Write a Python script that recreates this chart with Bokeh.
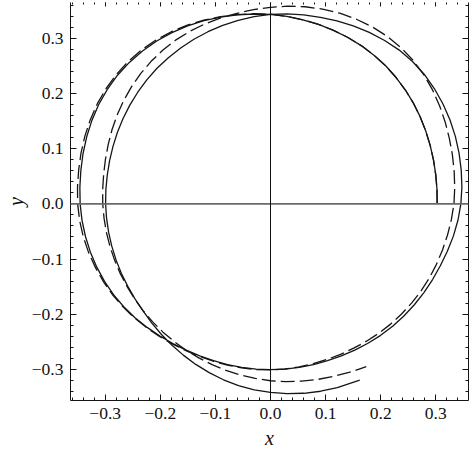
import numpy as np
from bokeh.plotting import figure
from bokeh.models import Span, LinearAxis, FixedTicker
from bokeh.embed import file_html
from bokeh.resources import INLINE

# Polar readings of the two orbits: angle (degrees, unwrapped, every 5 deg) and radius
solid_theta = list(range(0, 655, 5)) + [656.9]
solid_r = [
    0.3025, 0.3033, 0.3045, 0.3063, 0.3085, 0.3111, 0.3140, 0.3170, 0.3200, 0.3229,
    0.3258, 0.3282, 0.3305, 0.3325, 0.3345, 0.3365, 0.3385, 0.3407, 0.3430, 0.3452,
    0.3475, 0.3502, 0.3530, 0.3556, 0.3580, 0.3600, 0.3615, 0.3623, 0.3625, 0.3615,
    0.3600, 0.3577, 0.3550, 0.3522, 0.3495, 0.3473, 0.3455, 0.3434, 0.3410, 0.3384,
    0.3355, 0.3324, 0.3290, 0.3252, 0.3210, 0.3166, 0.3125, 0.3090, 0.3060, 0.3040,
    0.3025, 0.3016, 0.3010, 0.3007, 0.3005, 0.3005, 0.3008, 0.3015, 0.3025, 0.3040,
    0.3060, 0.3084, 0.3110, 0.3135, 0.3160, 0.3187, 0.3215, 0.3246, 0.3280, 0.3323,
    0.3370, 0.3415, 0.3455, 0.3487, 0.3515, 0.3543, 0.3570, 0.3595, 0.3615, 0.3633,
    0.3645, 0.3645, 0.3635, 0.3612, 0.3585, 0.3555, 0.3525, 0.3498, 0.3475, 0.3453,
    0.3430, 0.3403, 0.3375, 0.3347, 0.3318, 0.3289, 0.3260, 0.3232, 0.3205, 0.3175,
    0.3145, 0.3117, 0.3090, 0.3065, 0.3042, 0.3023, 0.3008, 0.2999, 0.2993, 0.2987,
    0.2983, 0.2981, 0.2982, 0.2985, 0.2990, 0.3002, 0.3020, 0.3050, 0.3085, 0.3124,
    0.3165, 0.3210, 0.3255, 0.3300, 0.3345, 0.3382, 0.3415, 0.3450, 0.3485, 0.3515,
    0.3545, 0.3580]

dashed_theta = list(range(0, 660, 5)) + [660.5]
dashed_r = [
    0.3025, 0.3033, 0.3045, 0.3063, 0.3085, 0.3111, 0.3140, 0.3170, 0.3200, 0.3229,
    0.3258, 0.3282, 0.3305, 0.3325, 0.3345, 0.3365, 0.3385, 0.3409, 0.3435, 0.3456,
    0.3480, 0.3509, 0.3540, 0.3571, 0.3600, 0.3623, 0.3640, 0.3648, 0.3650, 0.3642,
    0.3628, 0.3608, 0.3585, 0.3560, 0.3535, 0.3516, 0.3500, 0.3477, 0.3450, 0.3417,
    0.3380, 0.3343, 0.3305, 0.3263, 0.3220, 0.3176, 0.3135, 0.3100, 0.3070, 0.3050,
    0.3035, 0.3025, 0.3018, 0.3014, 0.3010, 0.3004, 0.3000, 0.2999, 0.3000, 0.3008,
    0.3020, 0.3038, 0.3060, 0.3082, 0.3105, 0.3130, 0.3155, 0.3180, 0.3205, 0.3232,
    0.3262, 0.3295, 0.3330, 0.3356, 0.3385, 0.3418, 0.3455, 0.3499, 0.3545, 0.3592,
    0.3635, 0.3667, 0.3690, 0.3700, 0.3700, 0.3690, 0.3675, 0.3652, 0.3625, 0.3594,
    0.3560, 0.3532, 0.3505, 0.3487, 0.3470, 0.3452, 0.3430, 0.3402, 0.3370, 0.3334,
    0.3295, 0.3255, 0.3215, 0.3174, 0.3135, 0.3102, 0.3075, 0.3057, 0.3045, 0.3032,
    0.3022, 0.3014, 0.3008, 0.3005, 0.3005, 0.3008, 0.3015, 0.3024, 0.3035, 0.3047,
    0.3062, 0.3080, 0.3100, 0.3123, 0.3148, 0.3175, 0.3205, 0.3233, 0.3262, 0.3294,
    0.3328, 0.3370, 0.3425]

x_ticks = [-0.3, -0.2, -0.1, 0.0, 0.1, 0.2, 0.3]
x_tick_labels = ["\u22120.3", "\u22120.2", "\u22120.1", "0.0", "0.1", "0.2", "0.3"]
y_ticks = [-0.3, -0.2, -0.1, 0.0, 0.1, 0.2, 0.3]
y_tick_labels = ["\u22120.3", "\u22120.2", "\u22120.1", "0.0", "0.1", "0.2", "0.3"]
minor_ticks = [round(v, 2) for v in np.arange(-0.36, 0.3601, 0.02)]


def to_xy(theta, r):
    t = np.radians(np.asarray(theta, dtype=float))
    rr = np.asarray(r, dtype=float)
    return rr * np.cos(t), rr * np.sin(t)


sx, sy = to_xy(solid_theta, solid_r)
dx, dy = to_xy(dashed_theta, dashed_r)

FONT = "Liberation Serif"
INK = "#151515"

p = figure(width=470, height=453, output_backend="svg", toolbar_location=None,
           x_range=(-0.36298, 0.35935), y_range=(-0.3563, 0.3647),
           min_border_left=70, min_border_right=2, min_border_top=2,
           min_border_bottom=53, x_axis_label="x", y_axis_label="y")
p.outline_line_color = None
p.grid.visible = False
p.background_fill_color = "white"
p.border_fill_color = "white"

bottom = p.below[0]
left = p.left[0]

xt = FixedTicker(ticks=x_ticks, minor_ticks=minor_ticks)
yt = FixedTicker(ticks=y_ticks, minor_ticks=minor_ticks)
bottom.ticker = xt
left.ticker = yt
bottom.major_label_overrides = dict(zip(x_ticks, x_tick_labels))
left.major_label_overrides = dict(zip(y_ticks, y_tick_labels))

right = LinearAxis(ticker=yt, major_label_text_font_size="1px",
                   major_label_text_color=None, major_label_standoff=0)
top = LinearAxis(ticker=xt, major_label_text_font_size="1px",
                 major_label_text_color=None, major_label_standoff=0)
p.add_layout(right, "right")
p.add_layout(top, "above")

for ax in [bottom, left, right]:
    ax.major_tick_in = 6
    ax.major_tick_out = 0
    ax.minor_tick_in = 3
    ax.minor_tick_out = 0
    ax.axis_line_color = INK
    ax.major_tick_line_color = INK
    ax.minor_tick_line_color = INK
    ax.axis_line_width = 1

top.major_tick_in = 4
top.major_tick_out = 0
top.minor_tick_in = 2
top.minor_tick_out = 0
top.axis_line_color = None
top.major_tick_line_color = INK
top.minor_tick_line_color = INK

for ax in [bottom, left]:
    ax.major_label_text_font = FONT
    ax.major_label_text_font_size = "17.5px"
    ax.major_label_text_color = "#111111"
    ax.axis_label_text_font = FONT
    ax.axis_label_text_font_style = "italic"
    ax.axis_label_text_font_size = "20px"
    ax.axis_label_text_color = "#111111"

bottom.major_label_standoff = 7
bottom.axis_label_standoff = 5
left.major_label_standoff = 7
left.axis_label_standoff = 2

p.add_layout(Span(location=0, dimension="width", line_color="#6a6a6a", line_width=1.7))
p.add_layout(Span(location=0, dimension="height", line_color="#111111", line_width=1))

p.line(sx, sy, line_color=INK, line_width=1.3)
p.line(dx, dy, line_color=INK, line_width=1.3, line_dash="14 5")

open("out.html", "w").write(file_html(p, INLINE))
